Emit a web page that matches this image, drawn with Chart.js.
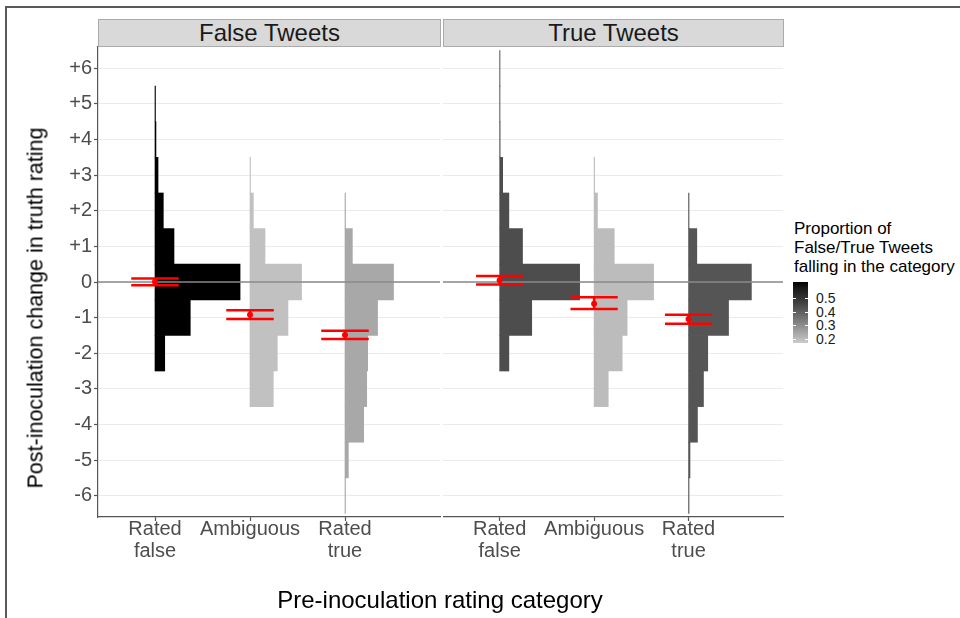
<!DOCTYPE html>
<html>
<head>
<meta charset="utf-8">
<script src="https://cdn.jsdelivr.net/npm/chart.js@4.4.0/dist/chart.umd.min.js"></script>
<style>
  body { margin: 0; background: #fff; font-family: "Liberation Sans", Arial, sans-serif; }
  #wrap { position: relative; width: 960px; height: 618px; overflow: hidden; background: #fff; }
  .frame { position: absolute; left: 5px; top: 6px; width: 970px; height: 630px;
           border-top: 2px solid #5a5a5a; border-left: 2px solid #5a5a5a; }
  .panel { position: absolute; top: 0; }
  .strip { position: absolute; top: 19px; height: 28px; box-sizing: border-box;
           background: #d9d9d9; border: 1px solid #ababab; color: #1a1a1a;
           font-size: 24px; line-height: 26px; text-align: center; }
  .ytitle { position: absolute; left: 36px; top: 308px; transform: translate(-50%, -50%) rotate(-90deg);
            white-space: nowrap; font-size: 21.5px; color: #000; }
  .xtitle { position: absolute; left: 440px; top: 600px; transform: translate(-50%, -50%);
            white-space: nowrap; font-size: 24px; color: #000; }
  .legtitle { position: absolute; left: 794px; top: 219px; font-size: 17px; line-height: 19px; color: #000; white-space: nowrap; }
  .bar { position: absolute; left: 793px; top: 282px; width: 15px; height: 61px; }
  .legtick { position: absolute; height: 1px; width: 3px; background: #fff; }
  .leglab { position: absolute; left: 816px; font-size: 14px; line-height: 14px; color: #1a1a1a; transform: translateY(-50%); }
</style>
</head>
<body>
<div id="wrap">
  <div class="frame"></div>
  <div class="panel" style="left:0;width:441px;height:618px"><canvas id="p1" width="441" height="618"></canvas></div>
  <div class="panel" style="left:443px;width:341px;height:618px"><canvas id="p2" width="341" height="618"></canvas></div>
  <div class="strip" style="left:98px;width:343px">False Tweets</div>
  <div class="strip" style="left:443px;width:341px">True Tweets</div>
  <div class="ytitle">Post-inoculation change in truth rating</div>
  <div class="xtitle">Pre-inoculation rating category</div>
  <div class="legtitle">Proportion of<br>False/True Tweets<br>falling in the category</div>
  <div class="bar" id="cbar"></div>
</div>
<script>
const categories = ['Rated false', 'Ambiguous', 'Rated true'];
const tickLabels = [['Rated', 'false'], 'Ambiguous', ['Rated', 'true']];
const bins = [6, 5, 4, 3, 2, 1, 0, -1, -2, -3, -4, -5, -6];
const yTicks = [6, 5, 4, 3, 2, 1, 0, -1, -2, -3, -4, -5, -6];
const yTickLabels = ['+6', '+5', '+4', '+3', '+2', '+1', '0', '-1', '-2', '-3', '-4', '-5', '-6'];

// % of tweets in each change bin (bins order), per pre-inoculation category
const falseRatedFalse = [0, 0.3, 0.6, 1.9, 5.2, 11.9, 53.3, 22.1, 6.1, 0, 0, 0, 0];
const falseAmbiguous  = [0, 0, 0, 0.3, 2.1, 9.4, 32.3, 23.8, 17.1, 14.6, 0, 0, 0];
const falseRatedTrue  = [0, 0, 0, 0, 0.3, 4.6, 30.4, 20.4, 14.2, 13.6, 11.7, 2.1, 0.3];
const trueRatedFalse  = [0.2, 0.2, 0.3, 1.9, 5.8, 14.4, 50.4, 20.2, 5.8, 0, 0, 0, 0];
const trueAmbiguous   = [0, 0, 0, 0.3, 2.1, 12.7, 37.5, 20.8, 17.7, 8.9, 0, 0, 0];
const trueRatedTrue   = [0, 0, 0, 0, 0.3, 5.2, 39.6, 25.2, 12.1, 9.4, 5.6, 0.9, 0.3];

// proportion of False/True tweets falling in each category (fill colour)
const falseShare = [0.62, 0.19, 0.24];
const trueShare  = [0.44, 0.20, 0.42];

// mean change with interval
const falseMean = [0.01, -0.92, -1.49];
const falseLo   = [-0.09, -1.04, -1.60];
const falseHi   = [0.10, -0.79, -1.37];
const trueMean  = [0.05, -0.61, -1.04];
const trueLo    = [-0.07, -0.76, -1.17];
const trueHi    = [0.17, -0.43, -0.92];

const legendTicks = [0.5, 0.4, 0.3, 0.2];
const FILL_MIN = 0.167, FILL_MAX = 0.62;

const X_MIN = 0.4, X_MAX = 4.0;
const Y_MIN = -6.6, Y_MAX = 6.6;
const W_PER_PCT = 0.0168;
const CAP = 0.25;
const FONT = '"Liberation Sans", Arial, sans-serif';

// grey80 -> black, interpolated in lightness like ggplot
function shade(t) {
  const L = 82.07 * (1 - t);
  const Y = L > 8 ? Math.pow((L + 16) / 116, 3) : L / 903.3;
  const s = Y <= 0.0031308 ? 12.92 * Y : 1.055 * Math.pow(Y, 1 / 2.4) - 0.055;
  const g = Math.round(Math.max(0, Math.min(1, s)) * 255);
  return 'rgb(' + g + ',' + g + ',' + g + ')';
}
function fillFor(v) {
  return shade(Math.max(0, Math.min(1, (v - FILL_MIN) / (FILL_MAX - FILL_MIN))));
}

function buildDatasets(hists, shares, mean, lo, hi) {
  const ds = [];
  hists.forEach((h, i) => {
    const c = i + 1;
    ds.push({
      type: 'bar',
      indexAxis: 'y',
      order: 3,
      data: bins.map((b, k) => ({ y: b, x: [c, c + h[k] * W_PER_PCT] })).filter((d, k) => h[k] > 0),
      backgroundColor: fillFor(shares[i]),
      borderWidth: 0,
      barPercentage: 1,
      categoryPercentage: 1,
      grouped: false
    });
  });
  ds.push({
    type: 'line', order: 2,
    data: [{ x: X_MIN, y: 0 }, { x: X_MAX, y: 0 }],
    borderColor: '#8a8a8a', borderWidth: 1.6, pointRadius: 0
  });
  mean.forEach((m, i) => {
    const c = i + 1;
    const segs = [
      [{ x: c - CAP, y: lo[i] }, { x: c + CAP, y: lo[i] }],
      [{ x: c - CAP, y: hi[i] }, { x: c + CAP, y: hi[i] }],
      [{ x: c, y: lo[i] }, { x: c, y: hi[i] }]
    ];
    segs.forEach(seg => ds.push({
      type: 'line', order: 1, data: seg,
      borderColor: '#ff0000', borderWidth: 2.5, pointRadius: 0
    }));
    ds.push({
      type: 'line', order: 0, data: [{ x: c, y: m }], showLine: false,
      pointRadius: 3, pointBackgroundColor: '#ff0000', pointBorderWidth: 0
    });
  });
  return ds;
}

function makePanel(id, datasets, showAxis) {
  return new Chart(document.getElementById(id), {
    type: 'bar',
    data: { datasets: datasets },
    options: {
      responsive: false,
      animation: false,
      indexAxis: 'y',
      layout: { autoPadding: false, padding: { top: 47, right: 1, bottom: 0, left: 0 } },
      plugins: { legend: { display: false }, tooltip: { enabled: false } },
      scales: {
        x: {
          type: 'linear', min: X_MIN, max: X_MAX, offset: false,
          afterBuildTicks: s => { s.ticks = categories.map((_, i) => ({ value: i + 1 })); },
          afterFit: s => { s.height = 101; },
          ticks: {
            autoSkip: false, maxRotation: 0, padding: -3, color: '#4d4d4d',
            font: { family: FONT, size: 20, lineHeight: 1.1 },
            callback: v => tickLabels[v - 1]
          },
          grid: { drawOnChartArea: false, offset: false, tickLength: 4, tickColor: '#555', tickWidth: 1.2 },
          border: { display: true, color: '#555', width: 1.2 }
        },
        y: {
          type: 'linear', min: Y_MIN, max: Y_MAX, offset: false,
          afterBuildTicks: s => { s.ticks = yTicks.map(v => ({ value: v })); },
          afterFit: s => { s.width = showAxis ? 98 : 0; },
          ticks: {
            display: showAxis, padding: 2, color: '#4d4d4d',
            font: { family: FONT, size: 20 },
            callback: v => yTickLabels[yTicks.indexOf(v)]
          },
          grid: { color: '#ebebeb', lineWidth: 1, offset: false, drawTicks: showAxis,
                  tickLength: showAxis ? 4 : 0, tickColor: '#555', tickWidth: 1.2 },
          border: { display: showAxis, color: '#555', width: 1.2 }
        }
      }
    }
  });
}

makePanel('p1', buildDatasets([falseRatedFalse, falseAmbiguous, falseRatedTrue], falseShare, falseMean, falseLo, falseHi), true);
makePanel('p2', buildDatasets([trueRatedFalse, trueAmbiguous, trueRatedTrue], trueShare, trueMean, trueLo, trueHi), false);

// colour bar legend
(function () {
  const bar = document.getElementById('cbar');
  const stops = [];
  for (let k = 0; k <= 10; k++) stops.push(shade(1 - k / 10) + ' ' + (k * 10) + '%');
  bar.style.background = 'linear-gradient(to bottom, ' + stops.join(', ') + ')';
  const wrap = document.getElementById('wrap');
  const top = 282, h = 61, left = 793, w = 15;
  legendTicks.forEach(v => {
    const y = top + (FILL_MAX - v) / (FILL_MAX - FILL_MIN) * h;
    [left, left + w - 3].forEach(x => {
      const t = document.createElement('div');
      t.className = 'legtick';
      t.style.left = x + 'px';
      t.style.top = Math.round(y) + 'px';
      wrap.appendChild(t);
    });
    const lab = document.createElement('div');
    lab.className = 'leglab';
    lab.style.top = y + 'px';
    lab.textContent = v.toFixed(1);
    wrap.appendChild(lab);
  });
})();
</script>
</body>
</html>
